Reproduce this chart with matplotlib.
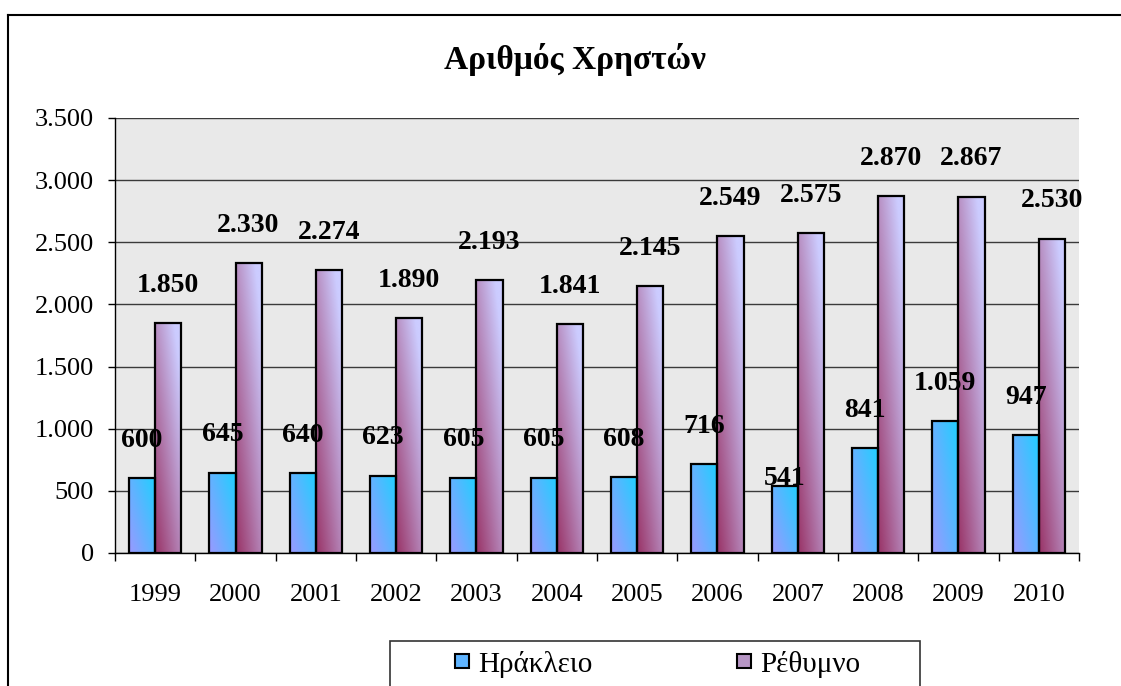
"""
Αριθμός Χρηστών - grouped bar chart with Excel-style gradient bars.
"""

import numpy as np
import matplotlib
matplotlib.use("Agg")
import matplotlib.pyplot as plt
from matplotlib.patches import Rectangle
from matplotlib.lines import Line2D
from matplotlib.colors import to_rgb
from matplotlib.ticker import FuncFormatter, FixedLocator

years = ['1999', '2000', '2001', '2002', '2003', '2004',
         '2005', '2006', '2007', '2008', '2009', '2010']
heraklion = [600, 645, 640, 623, 605, 605, 608, 716, 541, 841, 1059, 947]
rethymno = [1850, 2330, 2274, 1890, 2193, 1841, 2145, 2549, 2575, 2870, 2867, 2530]
series_names = ['Ηράκλειο', 'Ρέθυμνο']
title = 'Αριθμός Χρηστών'

SERIF = ['Liberation Serif', 'DejaVu Serif']
plt.rcParams['font.family'] = SERIF

FS = 19
BAR_W = 0.325
LABEL_OFFSET = 305          # label centre above bar top, data units
label_nudge = {('h', 8): -245}   # the 2007 label sits lower in the original


def thousands(v, pos=None):
    return f'{int(v):,}'.replace(',', '.')


def gradient_fill(ax, rect, c0, c1, wu, wv):
    """Fill a bar rectangle with a two-colour diagonal gradient."""
    x0, y0 = rect.get_x(), rect.get_y()
    w, h = rect.get_width(), rect.get_height()
    u = np.linspace(0, 1, 40)[None, :]
    v = np.linspace(0, 1, 80)[:, None]
    t = np.clip(wu * u + wv * v, 0, 1)[..., None]
    img = np.array(to_rgb(c0)) * (1 - t) + np.array(to_rgb(c1)) * t
    im = ax.imshow(img, extent=(x0, x0 + w, y0, y0 + h), origin='lower',
                   aspect='auto', interpolation='bilinear', zorder=2)
    im.set_clip_path(rect)


fig = plt.figure(figsize=(11.21, 6.86), dpi=100, facecolor='white')
ax = fig.add_axes([0.1026, 0.1939, 0.9625 - 0.1026, 0.828 - 0.1939])
ax.set_facecolor('#e9e9e9')

x = np.arange(len(years))
bars_h = ax.bar(x - BAR_W / 2, heraklion, BAR_W, facecolor='none',
                edgecolor='black', linewidth=1.6, zorder=3)
bars_r = ax.bar(x + BAR_W / 2, rethymno, BAR_W, facecolor='none',
                edgecolor='black', linewidth=1.6, zorder=3)

for rect in bars_h:
    gradient_fill(ax, rect, '#9a99ff', '#1fd0ff', 0.55, 0.45)
for rect in bars_r:
    gradient_fill(ax, rect, '#993366', '#ccccff', 0.55, 0.6)

# value labels
for i, rect in enumerate(bars_h):
    val = heraklion[i]
    yy = val + LABEL_OFFSET + label_nudge.get(('h', i), 0)
    ax.text(rect.get_x() + rect.get_width() / 2, yy, thousands(val),
            ha='center', va='center', fontsize=20, fontweight='bold', zorder=4)
for i, rect in enumerate(bars_r):
    val = rethymno[i]
    ax.text(rect.get_x() + rect.get_width() / 2, val + LABEL_OFFSET, thousands(val),
            ha='center', va='center', fontsize=20, fontweight='bold', zorder=4)

ax.set_xlim(-0.5, len(years) - 0.5)
ax.set_ylim(0, 3500)

# axes styling
ax.yaxis.set_major_locator(FixedLocator(np.arange(0, 3501, 500)))
ax.yaxis.set_major_formatter(FuncFormatter(thousands))
ax.grid(axis='y', color='#3a3a3a', linewidth=1.0, zorder=1)
ax.set_axisbelow(True)

ax.xaxis.set_major_locator(FixedLocator(np.arange(-0.5, len(years), 1.0)))
ax.xaxis.set_major_formatter(FuncFormatter(lambda v, p: ''))
ax.xaxis.set_minor_locator(FixedLocator(x))
ax.set_xticklabels(years, minor=True)
ax.tick_params(axis='x', which='major', length=6, width=1, direction='out')
ax.tick_params(axis='x', which='minor', length=0, pad=22, labelsize=FS)
ax.tick_params(axis='y', length=5, width=1, direction='out', pad=10, labelsize=FS)

for side in ['top', 'right']:
    ax.spines[side].set_visible(False)
for side in ['left', 'bottom']:
    ax.spines[side].set_color('black')
    ax.spines[side].set_linewidth(1.0)

fig.text(0.513, 0.913, title, ha='center', va='center',
         fontsize=24, fontweight='bold', family=SERIF)

# legend with its own box (cut off at the bottom like the original)
fig.patches.append(Rectangle((390 / 1121, -0.05), 530 / 1121, 0.05 + 45 / 686,
                             transform=fig.transFigure, facecolor='white',
                             edgecolor='#333333', linewidth=1.2))
handles = [
    Line2D([], [], marker='s', linestyle='none', markersize=10,
           markerfacecolor='#5fb4ff', markeredgecolor='black', markeredgewidth=1.5),
    Line2D([], [], marker='s', linestyle='none', markersize=10,
           markerfacecolor='#b695c4', markeredgecolor='black', markeredgewidth=1.5),
]
fig.legend(handles, series_names, loc='center', bbox_to_anchor=(0.586, 1 - 664 / 686),
           ncol=2, frameon=False, prop={'family': SERIF, 'size': 21},
           handlelength=0.6, handletextpad=0.25, columnspacing=4.9)

# outer chart border (left and top visible only)
fig.add_artist(Line2D([8 / 1121, 8 / 1121], [0, 1 - 15 / 686], color='black',
                      linewidth=1.5, transform=fig.transFigure))
fig.add_artist(Line2D([8 / 1121, 1], [1 - 15 / 686, 1 - 15 / 686], color='black',
                      linewidth=1.5, transform=fig.transFigure))

fig.savefig('out.png', dpi=100, facecolor='white')
